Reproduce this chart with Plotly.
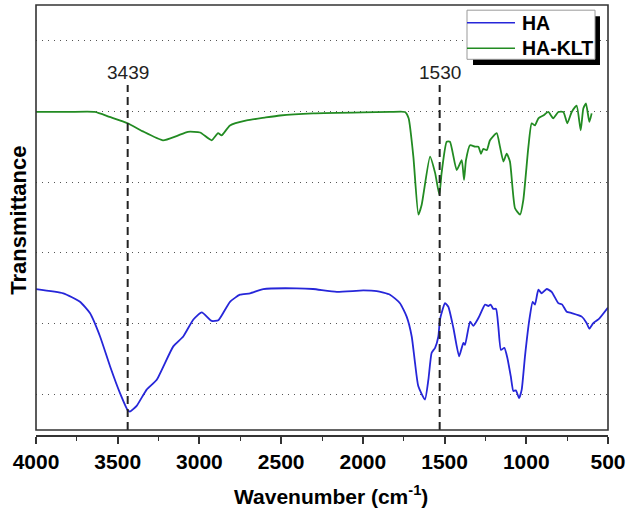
import plotly.graph_objects as go

# ---- data ----
ha_klt_wn = [4000, 3800, 3640, 3550, 3439, 3350, 3223, 3140, 3070, 2996, 2925, 2886, 2864,
             2813, 2711, 2600, 2507, 2305, 2000, 1834, 1742, 1720, 1691, 1660, 1640, 1589,
             1558, 1532, 1518, 1487, 1467, 1426, 1395, 1381, 1369, 1344, 1314, 1293, 1277,
             1263, 1242, 1222, 1181, 1161, 1140, 1120, 1100, 1069, 1038, 1018, 987, 967,
             947, 926, 896, 865, 835, 804, 773, 749, 722, 692, 667, 651, 635, 614, 600]
ha_klt_t = [3.99, 3.99, 3.99, 3.92, 3.83, 3.72, 3.59, 3.65, 3.71, 3.70, 3.59, 3.69, 3.66,
            3.80, 3.87, 3.91, 3.94, 3.97, 3.985, 3.99, 3.99, 3.90, 3.36, 2.54, 2.68, 3.36,
            3.13, 2.82, 3.13, 3.57, 3.57, 3.17, 3.31, 3.03, 3.31, 3.52, 3.50, 3.50, 3.40,
            3.47, 3.45, 3.59, 3.69, 3.50, 3.29, 3.40, 3.29, 2.63, 2.54, 2.75, 3.50, 3.83,
            3.80, 3.90, 3.94, 3.99, 3.90, 3.99, 3.99, 3.83, 3.99, 4.08, 3.73, 4.04, 4.11, 3.85, 3.97]

ha_wn = [4000, 3833, 3731, 3670, 3608, 3547, 3486, 3439, 3425, 3384, 3323, 3261, 3160, 3099,
         3037, 2986, 2925, 2884, 2813, 2752, 2690, 2609, 2405, 2305, 2160, 1997, 1915, 1834,
         1773, 1732, 1701, 1681, 1661, 1620, 1599, 1579, 1558, 1538, 1528, 1497, 1477, 1446,
         1411, 1385, 1375, 1344, 1324, 1293, 1252, 1232, 1218, 1202, 1185, 1171, 1155, 1134,
         1116, 1095, 1079, 1064, 1044, 1028, 1008, 981, 961, 947, 926, 906, 875, 845, 804,
         780, 753, 722, 661, 631, 614, 590, 559, 500]
ha_t = [1.49, 1.43, 1.31, 1.15, 0.82, 0.40, 0.02, -0.22, -0.24, -0.16, 0.07, 0.21, 0.68, 0.82,
        1.06, 1.16, 1.04, 1.05, 1.31, 1.41, 1.43, 1.49, 1.50, 1.49, 1.45, 1.47, 1.46, 1.41,
        1.29, 1.10, 0.82, 0.45, 0.12, -0.07, 0.21, 0.59, 0.66, 0.82, 1.06, 1.29, 1.24, 0.94,
        0.54, 0.73, 0.70, 1.03, 0.97, 1.08, 1.27, 1.25, 1.27, 1.21, 1.21, 0.96, 0.63, 0.66,
        0.52, 0.26, 0.05, 0.06, -0.05, 0.07, 0.54, 1.06, 1.31, 1.27, 1.48, 1.43, 1.49, 1.45, 1.29,
        1.27, 1.17, 1.15, 1.10, 1.01, 0.93, 1.01, 1.06, 1.23]

peak_marks = [3439, 1530]
x_ticks = [4000, 3500, 3000, 2500, 2000, 1500, 1000, 500]
series_names = ["HA", "HA-KLT"]
series_colors = ["#2626d9", "#228b22"]

FONT = "Liberation Sans, Arial, sans-serif"

fig = go.Figure()
fig.add_trace(go.Scatter(x=ha_wn, y=ha_t, mode="lines", name=series_names[0],
                         line=dict(color=series_colors[0], width=1.8, shape="spline", smoothing=0.5)))
fig.add_trace(go.Scatter(x=ha_klt_wn, y=ha_klt_t, mode="lines", name=series_names[1],
                         line=dict(color=series_colors[1], width=1.8, shape="spline", smoothing=0.5)))

for p in peak_marks:
    fig.add_shape(type="line", x0=p, x1=p, y0=-0.5, y1=4.37, xref="x", yref="y",
                  line=dict(color="#222", width=2, dash="8px,5px"))
    fig.add_annotation(x=p, y=4.55, xref="x", yref="y", text=str(p), showarrow=False,
                       font=dict(size=19, color="#222", family=FONT))

# frame box
fig.add_shape(type="rect", xref="x domain", yref="y domain", x0=0, x1=1, y0=0, y1=1,
              line=dict(color="#333", width=1.6), layer="above")

# manual legend (shadowed box)
fig.add_shape(type="rect", xref="paper", yref="paper", x0=0.764, x1=0.986, y0=0.861, y1=0.974,
              fillcolor="black", line=dict(width=0), layer="above")
fig.add_shape(type="rect", xref="paper", yref="paper", x0=0.7535, x1=0.9773, y0=0.874, y1=0.988,
              fillcolor="white", line=dict(color="#999", width=1), layer="above")
for name, col, ly in zip(series_names, series_colors, [0.959, 0.8995]):
    fig.add_shape(type="line", xref="paper", yref="paper", x0=0.7535, x1=0.8374, y0=ly, y1=ly,
                  line=dict(color=col, width=1.5), layer="above")
    fig.add_annotation(xref="paper", yref="paper", x=0.846, y=ly, xanchor="left", yanchor="middle",
                       text=name, showarrow=False,
                       font=dict(size=19.5, weight="bold", color="black", family=FONT))

# axis titles
fig.add_annotation(xref="paper", yref="paper", x=0.516, y=-0.137, xanchor="center", yanchor="middle",
                   text="Wavenumber (cm<sup>-1</sup>)", showarrow=False,
                   font=dict(size=21, weight="bold", color="black", family=FONT))
fig.add_annotation(xref="paper", yref="paper", x=-0.031, y=0.5, xanchor="center", yanchor="middle",
                   text="Transmittance", textangle=-90, showarrow=False,
                   font=dict(size=22, weight="bold", color="black", family=FONT))

fig.update_layout(
    width=633, height=511,
    margin=dict(l=36, r=25, t=5, b=75, autoexpand=False),
    paper_bgcolor="white", plot_bgcolor="white",
    font=dict(family=FONT, color="black"),
    showlegend=False,
    xaxis=dict(range=[4000, 500], anchor="free", position=0, automargin=False,
               tickvals=x_ticks, tickformat="d", ticks="outside", ticklen=7, tickwidth=1.5,
               tickcolor="#333",
               showline=True, linecolor="#333", linewidth=1.6, showgrid=False, zeroline=False,
               minor=dict(dtick=250, ticks="outside", ticklen=4, tickwidth=1.2, tickcolor="#333"),
               tickfont=dict(size=21, weight="bold", color="black", family=FONT)),
    yaxis=dict(range=[-0.5, 5.5], domain=[0.014, 1], dtick=1, tick0=0, automargin=False,
               showticklabels=False, ticks="", showline=False, zeroline=False,
               showgrid=True, gridcolor="#555", gridwidth=1, griddash="1px,5px"),
)

fig.write_html("out.html", config={"displayModeBar": False},
               post_script="document.body.style.margin='0px';document.body.style.overflow='hidden';")
